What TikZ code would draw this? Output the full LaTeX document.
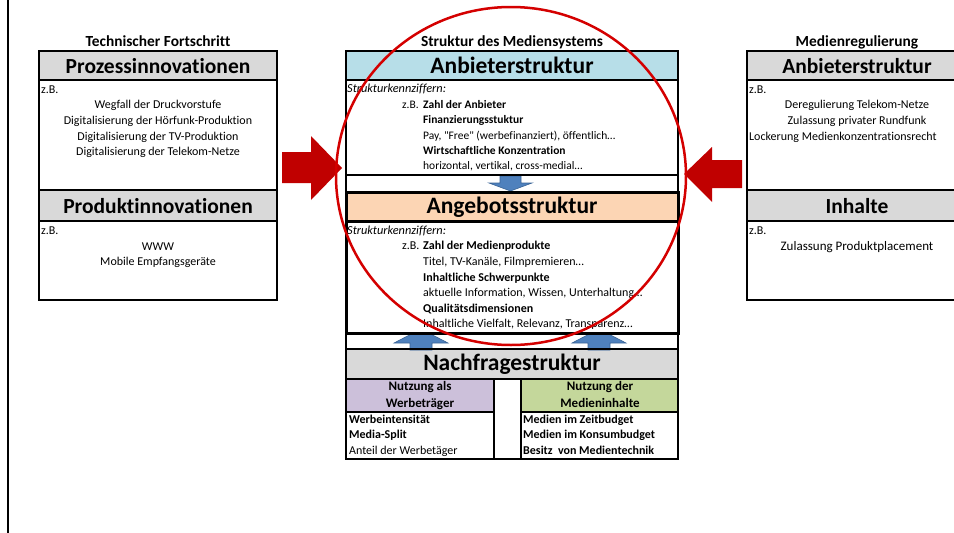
\documentclass[tikz,border=0pt]{standalone}
\usepackage{fontspec}
\setmainfont{Carlito}[Ligatures={CommonOff,TeXOff}]
\definecolor{hdrgray}{HTML}{D9D9D9}
\definecolor{hdrblue}{HTML}{B7DEE8}
\definecolor{hdrpeach}{HTML}{FCD5B4}
\definecolor{hdrpurple}{HTML}{CCC0DA}
\definecolor{hdrgreen}{HTML}{C4D79B}
\definecolor{arrowred}{HTML}{C00000}
\definecolor{ringred}{HTML}{D40000}
\definecolor{arrowblue}{HTML}{4F81BD}
\definecolor{arrowblueedge}{HTML}{3A6496}
\newcommand{\fs}[1]{\fontsize{#1}{#1}\selectfont}
\begin{document}
\begin{tikzpicture}[x=1pt,y=-1pt,
  frame/.style={draw=black,line width=2pt},
  thickframe/.style={draw=black,line width=3pt},
  hdr/.style={font=\bfseries\fs{21.5},anchor=base,inner sep=0pt},
  chdr/.style={font=\bfseries\fs{23.5},anchor=base,inner sep=0pt},
  ttl/.style={font=\bfseries\fs{15.4},anchor=base,inner sep=0pt},
  txt/.style={font=\fs{12},anchor=base,inner sep=0pt},
  txtl/.style={txt,anchor=base west},
  txtb/.style={txtl,font=\bfseries\fs{12}},
  atxt/.style={txtl,font=\fs{11.5}},
  atxtb/.style={txtl,font=\bfseries\fs{11.5}},
  kenn/.style={txtl,font=\itshape\fs{12.3}},
  subhdr/.style={font=\bfseries\fs{13},anchor=base,inner sep=0pt},
  blockred/.style={fill=arrowred,draw=none},
  blockblue/.style={fill=arrowblue,draw=arrowblueedge,line width=0.6pt},
  ring/.style={draw=ringred,line width=2.5pt}]
\useasboundingbox (0,0) rectangle (954,533);
\clip (0,0) rectangle (954,533);

% page margin rule
\draw[line width=2.5pt] (8,0) -- (8,533);

% ---------- header fills ----------
\fill[hdrgray] (39,51) rectangle (277,80);
\fill[hdrgray] (39,190) rectangle (277,221);
\fill[hdrblue] (346,51) rectangle (678,80);
\fill[hdrgray] (346,349) rectangle (678,379);
\fill[hdrpurple] (346,379) rectangle (494,412);
\fill[hdrgreen] (521,379) rectangle (678,412);
\fill[hdrgray] (747,51) rectangle (967,80);
\fill[hdrgray] (747,190) rectangle (967,221);

% ---------- blue block arrows between the strata ----------
\draw[blockblue] (500,176) -- (521,176) -- (521,183) -- (532,183) -- (510.5,191)
  -- (489,183) -- (500,183) -- cycle;
\foreach \c in {421,599}{
  \draw[blockblue] (\c-11,350) -- (\c-11,343) -- (\c-27,343) -- (\c,329)
    -- (\c+27,343) -- (\c+11,343) -- (\c+11,350) -- cycle;
}

% ---------- Angebotsstruktur box ----------
\fill[white] (346,192) rectangle (678,333);
\fill[hdrpeach] (346,192) rectangle (678,221);
\draw[thickframe] (346,192) rectangle (678,333);
\draw[thickframe] (346,221) -- (678,221);

% ---------- frames ----------
\draw[frame] (39,51) rectangle (277,300);
\draw[frame] (39,80) -- (277,80);
\draw[frame] (39,190) -- (277,190);
\draw[frame] (39,221) -- (277,221);

\draw[frame] (346,51) rectangle (678,459);
\draw[frame] (346,80) -- (678,80);
\draw[frame] (346,175) -- (678,175);
\draw[frame] (346,349) -- (678,349);
\draw[frame] (346,379) -- (678,379);
\draw[frame] (346,412) -- (494,412);
\draw[frame] (521,412) -- (678,412);
\draw[frame] (494,379) -- (494,459);
\draw[frame] (521,379) -- (521,459);

\draw[frame] (747,51) rectangle (967,300);
\draw[frame] (747,80) -- (967,80);
\draw[frame] (747,190) -- (967,190);
\draw[frame] (747,221) -- (967,221);

% ---------- left column: Technischer Fortschritt ----------
\node[ttl] (tf) at (158,46) {Technischer Fortschritt};
\node[hdr] (pi) at (158,73) {Prozessinnovationen};
\node[txtl] (pizb) at (41,93) {z.B.};
\node[txt] (pi1) at (158,108) {Wegfall der Druckvorstufe};
\node[txt] (pi2) at (158,124) {Digitalisierung der Hörfunk-Produktion};
\node[txt] (pi3) at (158,140) {Digitalisierung der TV-Produktion};
\node[txt] (pi4) at (158,155.5) {Digitalisierung der Telekom-Netze};
\node[hdr] (prd) at (158,213) {Produktinnovationen};
\node[txtl] (prdzb) at (41,234) {z.B.};
\node[txt] (prd1) at (158,250) {WWW};
\node[txt] (prd2) at (158,265) {Mobile Empfangsgeräte};

% ---------- centre column: Struktur des Mediensystems ----------
\node[ttl] (sm) at (512,46) {Struktur des Mediensystems};
\node[chdr] (ab) at (512,73.5) {Anbieterstruktur};
\node[kenn] (abk) at (347,92) {Strukturkennziffern:};
\node[atxt] (abzb) at (402,108) {z.B.};
\node[atxtb] (ab1) at (423,108) {Zahl der Anbieter};
\node[atxtb] (ab2) at (423,123.5) {Finanzierungsstuktur};
\node[atxt] (ab3) at (423,139) {Pay, "Free" (werbefinanziert), öffentlich…};
\node[atxtb] (ab4) at (423,154.5) {Wirtschaftliche Konzentration};
\node[atxt] (ab5) at (423,169.5) {horizontal, vertikal, cross-medial…};

\node[chdr] (ag) at (512,213) {Angebotsstruktur};
\node[kenn] (agk) at (347,234) {Strukturkennziffern:};
\node[txtl] (agzb) at (402,249.5) {z.B.};
\node[txtb] (ag1) at (423,249.5) {Zahl der Medienprodukte};
\node[txtl] (ag2) at (423,265) {Titel, TV-Kanäle, Filmpremieren…};
\node[txtb] (ag3) at (423,281) {Inhaltliche Schwerpunkte};
\node[txtl] (ag4) at (423,296) {aktuelle Information, Wissen, Unterhaltung…};
\node[txtb] (ag5) at (423,312) {Qualitätsdimensionen};
\node[txtl] (ag6) at (423,327) {Inhaltliche Vielfalt, Relevanz, Transparenz…};

\node[chdr] (nf) at (512,370.5) {Nachfragestruktur};
\node[subhdr] (nw1) at (420,390.5) {Nutzung als};
\node[subhdr] (nw2) at (420,407) {Werbeträger};
\node[subhdr] (nm1) at (600,390.5) {Nutzung der};
\node[subhdr] (nm2) at (600,407) {Medieninhalte};
\node[txtb] (nwa) at (349,423.5) {Werbeintensität};
\node[txtb] (nwb) at (349,438.5) {Media-Split};
\node[txtl] (nwc) at (349,454) {Anteil der Werbetäger};
\node[txtb] (nma) at (523,423.5) {Medien im Zeitbudget};
\node[txtb] (nmb) at (523,438.5) {Medien im Konsumbudget};
\node[txtb] (nmc) at (523,454) {Besitz\ \ von Medientechnik};

% ---------- right column: Medienregulierung ----------
\node[ttl] (mr) at (857,46) {Medienregulierung};
\node[hdr] (rab) at (857,73) {Anbieterstruktur};
\node[txtl] (rabzb) at (749,93) {z.B.};
\node[txt] (rab1) at (857,108) {Deregulierung Telekom-Netze};
\node[txt] (rab2) at (857,124) {Zulassung privater Rundfunk};
\node[txtl] (rab3) at (749,140) {Lockerung Medienkonzentrationsrecht};
\node[hdr] (rin) at (857,213) {Inhalte};
\node[txtl] (rinzb) at (749,234) {z.B.};
\node[txt,font=\fs{13}] (rin1) at (857,250) {Zulassung Produktplacement};

% ---------- red influence arrows ----------
\fill[blockred] (282,152) -- (311,152) -- (311,136) -- (342,168) -- (311,200)
  -- (311,183) -- (282,183) -- cycle;
\fill[blockred] (742,160) -- (712,160) -- (712,147) -- (684,174) -- (712,202)
  -- (712,188) -- (742,188) -- cycle;

% ---------- highlight ring ----------
\draw[ring] (511,176) ellipse [x radius=175, y radius=169];
\end{tikzpicture}
\end{document}
